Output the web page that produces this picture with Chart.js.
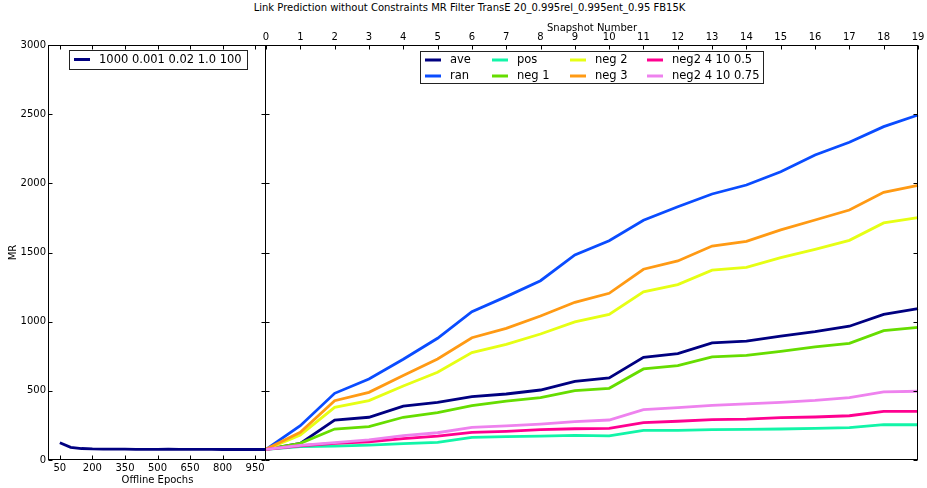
<!DOCTYPE html>
<html>
<head>
<meta charset="utf-8">
<script src="https://cdn.jsdelivr.net/npm/chart.js@4.4.1/dist/chart.umd.min.js"></script>
<style>
  html, body { margin: 0; padding: 0; background: #fff; }
  #wrap { position: relative; width: 927px; height: 488px; overflow: hidden; }
  #wrap canvas { position: absolute; left: 0; top: 0; }
  #title { position: absolute; left: 0; top: 2px; width: 939px; text-align: center;
           font: 10px "DejaVu Sans", sans-serif; color: #000; white-space: nowrap; }
</style>
</head>
<body>
<div id="wrap">
  <div id="title">Link Prediction without Constraints MR Filter TransE 20_0.995rel_0.995ent_0.95 FB15K</div>
  <canvas id="offline" width="927" height="488"></canvas>
  <canvas id="online" width="927" height="488"></canvas>
</div>
<script>
// ---- offline training (left panel) ----
const epochs = [50, 100, 150, 200, 250, 300, 350, 400, 450, 500, 550, 600, 650, 700, 750, 800, 850, 900, 950, 1000];
const offlineMR = [125, 92, 83, 80, 79, 78, 78, 77, 77, 77, 78, 77, 77, 77, 77, 76, 76, 76, 76, 76];
const offlineLabel = '1000 0.001 0.02 1.0 100';
const epochTicks = [50, 200, 350, 500, 650, 800, 950];
const mrTicks = [0, 500, 1000, 1500, 2000, 2500, 3000];

// ---- online snapshots (right panel) ----
const snapshots = ['0','1','2','3','4','5','6','7','8','9','10','11','12','13','14','15','16','17','18','19'];
const seriesNames = ['ave', 'ran', 'pos', 'neg 1', 'neg 2', 'neg 3', 'neg2 4 10 0.5', 'neg2 4 10 0.75'];
const seriesColors = ['#000080', '#0a4cff', '#12f5a8', '#66dd00', '#e6ff14', '#ff9a14', '#ff0090', '#ee82ee'];
const ave     = [77, 120, 289, 309, 390, 417, 458, 477, 506, 569, 593, 742, 769, 846, 860, 896, 928, 967, 1053, 1094];
const ran     = [77, 248, 482, 585, 728, 880, 1072, 1181, 1296, 1482, 1585, 1733, 1831, 1923, 1988, 2084, 2205, 2297, 2410, 2494];
const pos     = [77, 96, 101, 108, 118, 128, 164, 169, 173, 178, 175, 214, 214, 219, 221, 224, 229, 234, 255, 255];
const neg1    = [77, 120, 224, 241, 309, 342, 393, 426, 451, 501, 518, 658, 682, 745, 757, 786, 817, 843, 935, 959];
const neg2    = [77, 181, 381, 429, 535, 634, 776, 836, 911, 998, 1053, 1215, 1268, 1372, 1393, 1463, 1523, 1588, 1714, 1752];
const neg3    = [77, 200, 429, 489, 610, 730, 884, 952, 1041, 1140, 1205, 1379, 1439, 1547, 1581, 1663, 1735, 1807, 1935, 1986];
const neg2_05 = [77, 103, 120, 132, 154, 173, 200, 207, 219, 226, 229, 270, 280, 292, 296, 306, 311, 320, 352, 352];
const neg2_075= [77, 106, 125, 145, 176, 197, 236, 246, 260, 277, 289, 364, 378, 395, 405, 417, 431, 451, 492, 497];
const seriesValues = [ave, ran, pos, neg1, neg2, neg3, neg2_05, neg2_075];

const FONT = '"DejaVu Sans", sans-serif';
Chart.defaults.font.family = FONT;
Chart.defaults.color = '#000';

// Box around the plot area plus inward tick marks, matplotlib style.
function framePlugin(sides) {
  return {
    id: 'frame',
    afterDatasetsDraw(chart) {
      const { ctx, chartArea: a, scales } = chart;
      const L = Math.round(a.left) - 0.5, R = Math.round(a.right) - 0.5;
      const T = Math.round(a.top) + 0.5, B = Math.round(a.bottom) - 0.5;
      ctx.save();
      ctx.strokeStyle = '#000';
      ctx.lineWidth = 1;
      ctx.strokeRect(L, T, R - L, B - T);
      ctx.beginPath();
      const len = 4;
      const y = scales.y;
      y.ticks.forEach(t => {
        const py = Math.round(y.getPixelForValue(t.value)) + 0.5;
        if (sides.left)  { ctx.moveTo(L, py); ctx.lineTo(L + len, py); }
        if (sides.right) { ctx.moveTo(R, py); ctx.lineTo(R - len, py); }
      });
      const x = scales.x;
      x.ticks.forEach((t, i) => {
        const px = Math.round(x.getPixelForTick(i)) + 0.5;
        if (sides.top)    { ctx.moveTo(px, T); ctx.lineTo(px, T + len); }
        if (sides.bottom) { ctx.moveTo(px, B); ctx.lineTo(px, B - len); }
      });
      ctx.stroke();
      ctx.restore();
    }
  };
}

// Boxed legend laid out in columns (column-major order).
function legendPlugin(cfg) {
  return {
    id: 'boxLegend',
    afterDraw(chart) {
      const { ctx } = chart;
      const ds = chart.data.datasets;
      ctx.save();
      ctx.fillStyle = '#fff';
      ctx.fillRect(cfg.x, cfg.y, cfg.w, cfg.h);
      ctx.strokeStyle = '#222';
      ctx.lineWidth = 1;
      ctx.strokeRect(cfg.x + 0.5, cfg.y + 0.5, cfg.w, cfg.h);
      ctx.font = cfg.font + 'px ' + FONT;
      ctx.textBaseline = 'middle';
      ds.forEach((d, i) => {
        const col = Math.floor(i / cfg.rows), row = i % cfg.rows;
        const lx = cfg.colX[col];
        const ly = cfg.rowY[row];
        ctx.strokeStyle = d.borderColor;
        ctx.lineWidth = 3;
        ctx.beginPath();
        ctx.moveTo(lx, ly);
        ctx.lineTo(lx + 16, ly);
        ctx.stroke();
        ctx.fillStyle = '#000';
        ctx.fillText(d.label, lx + 25, ly + 0.5);
      });
      ctx.restore();
    }
  };
}

const plainNumber = v => String(v);

// Left panel: MR during offline training
new Chart(document.getElementById('offline'), {
  type: 'line',
  data: {
    datasets: [{
      label: offlineLabel,
      data: epochs.map((e, i) => ({ x: e, y: offlineMR[i] })),
      borderColor: '#000080',
      borderWidth: 2.8,
      pointRadius: 0,
      tension: 0,
      fill: false
    }]
  },
  options: {
    responsive: false,
    animation: false,
    layout: { padding: { left: 0, top: 45, right: 661, bottom: 0 } },
    plugins: { legend: { display: false }, tooltip: { enabled: false } },
    scales: {
      x: {
        type: 'linear', min: 0, max: 1000, position: 'bottom',
        afterBuildTicks(s) { s.ticks = epochTicks.map(v => ({ value: v })); },
        afterFit(s) { s.height = 28; },
        grid: { display: false, drawTicks: false },
        border: { display: false },
        ticks: { font: { size: 10 }, padding: 2, maxRotation: 0, autoSkip: false, callback: plainNumber },
        title: { display: true, text: 'Offline Epochs', font: { size: 10 }, padding: { top: 0, bottom: 2 } }
      },
      y: {
        type: 'linear', min: 0, max: 3000,
        afterBuildTicks(s) { s.ticks = mrTicks.map(v => ({ value: v })); },
        afterFit(s) { s.width = 49; },
        grid: { display: false, drawTicks: false },
        border: { display: false },
        ticks: { font: { size: 10 }, padding: 3, callback: plainNumber },
        title: { display: true, text: 'MR', font: { size: 10 }, padding: { top: 7, bottom: 0 } }
      }
    }
  },
  plugins: [
    framePlugin({ left: true, right: true, top: true, bottom: true }),
    legendPlugin({ x: 69, y: 50, w: 178, h: 19, rows: 1, colX: [74], rowY: [59.5], font: 11.5 })
  ]
});

// Right panel: MR per snapshot for each sampling strategy
new Chart(document.getElementById('online'), {
  type: 'line',
  data: {
    labels: snapshots,
    datasets: seriesNames.map((name, i) => ({
      label: name,
      data: seriesValues[i],
      borderColor: seriesColors[i],
      borderWidth: 2.8,
      pointRadius: 0,
      tension: 0,
      fill: false,
      order: seriesNames.length - i
    }))
  },
  options: {
    responsive: false,
    animation: false,
    layout: { padding: { left: 266, top: 0, right: 9, bottom: 28 } },
    plugins: { legend: { display: false }, tooltip: { enabled: false } },
    scales: {
      x: {
        type: 'category', position: 'top', offset: false,
        afterFit(s) { s.height = 45; },
        grid: { display: false, drawTicks: false },
        border: { display: false },
        ticks: { font: { size: 10 }, padding: 2, maxRotation: 0, autoSkip: false },
        title: { display: true, text: 'Snapshot Number', font: { size: 10 }, padding: { top: 22, bottom: 0 } }
      },
      y: {
        type: 'linear', min: 0, max: 3000, display: false,
        afterBuildTicks(s) { s.ticks = mrTicks.map(v => ({ value: v })); }
      }
    }
  },
  plugins: [
    framePlugin({ left: true, right: true, top: true, bottom: false }),
    legendPlugin({ x: 420, y: 51, w: 343, h: 32, rows: 2, colX: [425, 492, 570, 647], rowY: [60, 76], font: 11.5 })
  ]
});
</script>
</body>
</html>
